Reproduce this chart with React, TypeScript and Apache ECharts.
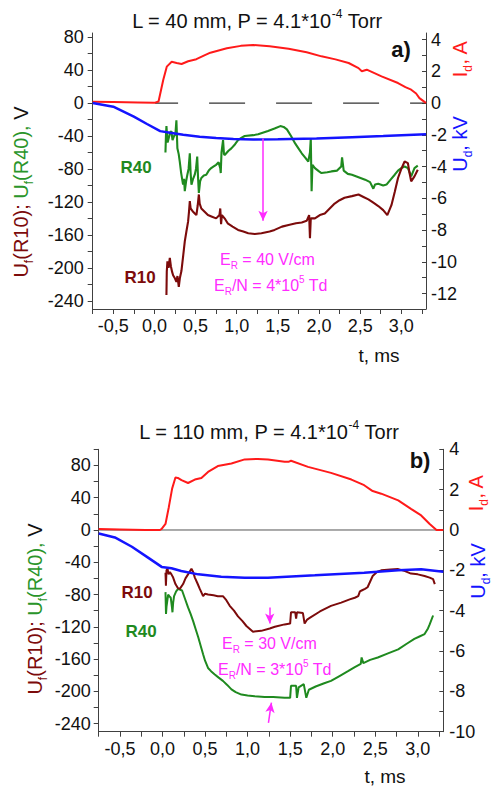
import React, { useEffect, useRef } from 'react';
import * as echarts from 'echarts';

const FONT = "'Liberation Sans', Arial, sans-serif";

// ---- axis ticks / labels ----
const xTickValues = [-0.75, -0.5, -0.25, 0, 0.25, 0.5, 0.75, 1, 1.25, 1.5, 1.75, 2, 2.25, 2.5, 2.75, 3, 3.25];
const xLabelValues = [-0.5, 0, 0.5, 1, 1.5, 2, 2.5, 3];
const leftLabelValues = [-240, -200, -160, -120, -80, -40, 0, 40, 80];
const topLeftTicks = [-240, -220, -200, -180, -160, -140, -120, -100, -80, -60, -40, -20, 0, 20, 40, 60, 80];
const botLeftTicks = [-240, -220, -200, -180, -160, -140, -120, -100, -80, -60, -40, -20, 0, 20, 40, 60, 80, 100];
const topRightLabels = [-12, -10, -8, -6, -4, -2, 0, 2, 4];
const topRightTicks = [-12, -11, -10, -9, -8, -7, -6, -5, -4, -3, -2, -1, 0, 1, 2, 3, 4];
const botRightLabels = [-10, -8, -6, -4, -2, 0, 2, 4];
const botRightTicks = [-10, -9, -8, -7, -6, -5, -4, -3, -2, -1, 0, 1, 2, 3, 4];

// ---- panel a) L = 40 mm ----
const aId = [[-0.75, 0.08], [-0.5, 0.06], [-0.2, 0.03], [0.0, 0.01], [0.05, 0.1], [0.107, 1.45], [0.15, 2.29], [0.21, 2.6], [0.27, 2.52], [0.33, 2.46], [0.41, 2.63], [0.51, 2.76], [0.6, 2.98], [0.68, 3.17], [0.88, 3.45], [1.05, 3.6], [1.2, 3.66], [1.4, 3.58], [1.63, 3.42], [1.85, 3.2], [2.03, 2.94], [2.2, 2.75], [2.36, 2.52], [2.48, 2.2], [2.52, 2.0], [2.58, 2.1], [2.76, 1.68], [2.96, 1.26], [3.05, 1.0], [3.12, 0.84], [3.18, 0.6], [3.22, 0.31], [3.29, 0.04], [3.3, 0]];
const aUd = [[-0.75, 0], [-0.5, -0.23], [-0.25, -0.86], [-0.09, -1.32], [0.07, -1.77], [0.19, -1.87], [0.35, -2.0], [0.55, -2.12], [0.75, -2.2], [0.96, -2.27], [1.2, -2.29], [1.5, -2.28], [1.97, -2.23], [2.4, -2.15], [2.78, -2.08], [3.3, -1.97]];
const aR40 = [[0.134, -60], [0.14, -40], [0.146, -28], [0.16, -48], [0.175, -42], [0.19, -36], [0.206, -34], [0.22, -45], [0.239, -40], [0.255, -38], [0.267, -21], [0.279, -55], [0.295, -62], [0.308, -71], [0.325, -85], [0.348, -99], [0.36, -92], [0.369, -107], [0.385, -95], [0.4, -87], [0.415, -80], [0.43, -61], [0.44, -85], [0.45, -99], [0.47, -92], [0.49, -87], [0.505, -80], [0.52, -65], [0.53, -90], [0.54, -109], [0.555, -95], [0.57, -91], [0.6, -88], [0.63, -87], [0.66, -82], [0.69, -79], [0.72, -77], [0.75, -75], [0.78, -72], [0.8, -79], [0.806, -85], [0.815, -60], [0.834, -45], [0.845, -62], [0.854, -63], [0.9, -58], [0.935, -55], [0.98, -50], [1.016, -45], [1.06, -42], [1.097, -40], [1.2, -39], [1.26, -38], [1.38, -34], [1.46, -31], [1.53, -28], [1.57, -29], [1.61, -32], [1.66, -40], [1.71, -49], [1.75, -55], [1.79, -61], [1.83, -66], [1.87, -71], [1.89, -60], [1.9, -43], [1.91, -107], [1.92, -75], [1.95, -79], [2.0, -83], [2.03, -85], [2.1, -84], [2.15, -83], [2.22, -82], [2.27, -77], [2.28, -66], [2.3, -82], [2.35, -86], [2.4, -87], [2.48, -90], [2.56, -93], [2.62, -96], [2.66, -104], [2.68, -99], [2.72, -98], [2.78, -100], [2.82, -99], [2.87, -93], [2.92, -87], [2.96, -82], [3.0, -79], [3.04, -77], [3.08, -79], [3.12, -89], [3.16, -79], [3.2, -76]];
const aR10 = [[0.146, -233], [0.15, -205], [0.158, -192], [0.172, -200], [0.187, -188], [0.2, -198], [0.215, -205], [0.227, -209], [0.245, -212], [0.267, -217], [0.28, -210], [0.296, -223], [0.31, -212], [0.328, -204], [0.35, -185], [0.369, -168], [0.39, -155], [0.409, -144], [0.42, -132], [0.43, -119], [0.44, -128], [0.47, -132], [0.49, -134], [0.51, -136], [0.525, -125], [0.54, -111], [0.55, -122], [0.57, -128], [0.61, -132], [0.65, -136], [0.7, -138], [0.75, -140], [0.79, -136], [0.8, -128], [0.81, -147], [0.82, -136], [0.86, -141], [0.89, -146], [0.95, -150], [1.016, -154], [1.08, -156], [1.14, -158], [1.22, -159], [1.3, -158], [1.4, -156], [1.46, -154], [1.55, -150], [1.63, -148], [1.72, -146], [1.79, -145], [1.85, -143], [1.88, -136], [1.89, -164], [1.9, -140], [1.95, -140], [2.01, -136], [2.07, -134], [2.13, -128], [2.19, -122], [2.25, -118], [2.31, -115], [2.4, -113], [2.48, -111], [2.54, -114], [2.6, -117], [2.66, -121], [2.72, -125], [2.78, -130], [2.83, -136], [2.88, -124], [2.92, -108], [2.96, -91], [3.0, -80], [3.04, -71], [3.08, -73], [3.1, -85], [3.12, -95], [3.16, -89], [3.2, -81]];
const aZero = [[0.008, 0], [3.3, 0]];
const aArrow = [[1.32, -43], [1.32, -143]];

// ---- panel b) L = 110 mm ----
const bId = [[-0.75, 0.05], [-0.5, 0.03], [-0.2, 0.0], [-0.03, 0], [-0.01, 0.05], [0.035, 0.3], [0.074, 1.13], [0.113, 2.05], [0.152, 2.6], [0.18, 2.58], [0.223, 2.47], [0.3, 2.33], [0.38, 2.5], [0.457, 2.58], [0.535, 2.88], [0.65, 3.17], [0.81, 3.3], [0.966, 3.5], [1.12, 3.52], [1.24, 3.5], [1.435, 3.38], [1.48, 3.38], [1.51, 3.43], [1.71, 3.13], [1.98, 2.83], [2.22, 2.5], [2.37, 2.22], [2.47, 1.93], [2.57, 1.8], [2.77, 1.47], [2.92, 1.05], [3.04, 0.72], [3.14, 0.3], [3.22, 0], [3.3, 0]];
const bUd = [[-0.75, -0.17], [-0.56, -0.37], [-0.36, -0.83], [-0.17, -1.37], [-0.01, -1.83], [0.105, -1.9], [0.22, -2.03], [0.42, -2.2], [0.69, -2.32], [0.966, -2.37], [1.24, -2.37], [1.79, -2.25], [2.37, -2.12], [2.77, -2.0], [3.04, -1.95], [3.3, -2.07]];
const bR10 = [[0.035, -53], [0.04, -69], [0.047, -50], [0.059, -48], [0.072, -55], [0.086, -52], [0.105, -55], [0.125, -59], [0.152, -67], [0.18, -72], [0.203, -73], [0.242, -67], [0.27, -60], [0.3, -55], [0.34, -48], [0.36, -52], [0.38, -59], [0.41, -66], [0.438, -73], [0.477, -82], [0.5, -79], [0.535, -80], [0.6, -81], [0.65, -82], [0.71, -82], [0.75, -87], [0.79, -94], [0.84, -100], [0.887, -107], [0.94, -113], [0.986, -119], [1.063, -126], [1.16, -125], [1.26, -122], [1.32, -120], [1.435, -117], [1.5, -116], [1.51, -102], [1.56, -102], [1.57, -110], [1.58, -102], [1.65, -103], [1.67, -116], [1.7, -111], [1.73, -109], [1.85, -101], [1.98, -94], [2.1, -90], [2.2, -86], [2.26, -84], [2.3, -82], [2.32, -76], [2.34, -75], [2.38, -73], [2.41, -71], [2.47, -57], [2.52, -52], [2.57, -50], [2.68, -49], [2.77, -48.5], [2.85, -51], [2.92, -54], [3.0, -55], [3.08, -57], [3.14, -59], [3.18, -61], [3.2, -67]];
const bR40 = [[0.035, -77], [0.041, -104], [0.047, -95], [0.066, -80], [0.08, -82], [0.097, -84], [0.11, -95], [0.117, -102], [0.125, -90], [0.136, -82], [0.16, -76], [0.183, -73], [0.23, -75], [0.26, -84], [0.3, -96], [0.33, -104], [0.36, -113], [0.39, -123], [0.42, -133], [0.45, -144], [0.477, -154], [0.5, -162], [0.535, -171], [0.57, -175], [0.614, -179], [0.66, -183], [0.71, -187], [0.76, -192], [0.81, -197.5], [0.86, -201], [0.927, -204], [1.0, -205], [1.083, -206], [1.2, -207], [1.3, -207], [1.435, -208], [1.5, -208], [1.51, -193], [1.57, -193], [1.58, -208], [1.6, -195], [1.66, -191], [1.69, -208], [1.72, -198], [1.8, -194], [1.9, -190], [1.98, -187], [2.08, -181], [2.18, -175], [2.26, -170], [2.33, -166], [2.34, -158], [2.36, -165], [2.44, -161], [2.53, -158], [2.65, -153], [2.77, -148], [2.87, -141], [2.96, -135], [3.02, -132], [3.08, -129], [3.12, -122], [3.14, -117], [3.18, -106]];
const bZero = [[-0.75, 0], [3.3, 0]];
const bArrowDown = [[1.26, -96], [1.26, -116]];
const bArrowUp = [[1.245, -239], [1.28, -214]];

const C_RED = '#ff1a1a';
const C_BLUE = '#1414ff';
const C_GREEN = '#1f8a1f';
const C_DRED = '#7c0b0b';
const C_MAG = '#ff2bff';
const C_AXIS = '#404040';

function rt(x: number, y: number, text: string, rich: any, opts: any = {}) {
  return {
    type: 'text',
    x,
    y,
    rotation: opts.rotation || 0,
    z: 100,
    silent: true,
    style: {
      text,
      rich,
      align: opts.align || 'left',
      verticalAlign: 'middle',
      fontFamily: FONT,
      fontSize: opts.fontSize || 16,
      fontWeight: opts.fontWeight || 'normal',
      fill: opts.fill || '#111',
    },
  };
}

function tok(fill: string, fontSize: number, lineHeight: number, va?: string, weight?: string) {
  const o: any = { fill, fontSize, lineHeight, fontFamily: FONT };
  if (va) o.verticalAlign = va;
  if (weight) o.fontWeight = weight;
  return o;
}

const xFmt = (v: number) => v.toFixed(1).replace('.', ',');

function xAxisDef(gridIndex: number) {
  return {
    type: 'value',
    gridIndex,
    min: -0.75,
    max: 3.3,
    splitLine: { show: false },
    axisLine: { show: true, onZero: false, lineStyle: { color: C_AXIS, width: 1 } },
    axisTick: { show: true, inside: false, length: 5, customValues: xTickValues, lineStyle: { color: C_AXIS } },
    axisLabel: { show: true, customValues: xLabelValues, formatter: xFmt, margin: 8, fontSize: 18, fontFamily: FONT, color: '#111' },
  };
}

function yAxisDef(gridIndex: number, pos: string, min: number, max: number, labels: number[], ticks: number[], margin: number) {
  return {
    type: 'value',
    gridIndex,
    position: pos,
    min,
    max,
    splitLine: { show: false },
    axisLine: { show: true, onZero: false, lineStyle: { color: C_AXIS, width: 1 } },
    axisTick: { show: true, inside: pos === 'right', length: pos === 'right' ? 4 : 5, customValues: ticks, lineStyle: { color: C_AXIS } },
    axisLabel: { show: true, customValues: labels, margin, fontSize: 18, fontFamily: FONT, color: '#111' },
  };
}

function lineSeries(data: number[][], xi: number, yi: number, color: string, width: number, extra: any = {}) {
  return {
    type: 'line',
    xAxisIndex: xi,
    yAxisIndex: yi,
    data,
    showSymbol: false,
    symbol: 'none',
    silent: true,
    lineStyle: { color, width },
    ...extra,
  };
}

function arrowLine(pts: number[][]) {
  return [{ coord: pts[0] }, { coord: pts[1] }];
}

export default function App() {
  const ref = useRef<HTMLDivElement>(null);
  useEffect(() => {
    if (!ref.current) return;
    const chart = echarts.init(ref.current, undefined, { renderer: 'svg' });
    const markArrow = (lines: any[]) => ({
      silent: true,
      symbol: ['none', 'arrow'],
      symbolSize: [7, 10],
      label: { show: false },
      lineStyle: { color: C_MAG, width: 1.5, type: 'solid' },
      data: lines,
    });

    const titleRich = { m: tok('#111', 20, 26), s: tok('#111', 12, 12, 'top') };
    const nameRich = {
      r: tok(C_DRED, 20, 27),
      rs: tok(C_DRED, 12, 10, 'bottom'),
      g: tok('#2a952a', 20, 27),
      gs: tok('#2a952a', 12, 10, 'bottom'),
      k: tok('#111', 20, 27),
    };
    const idRich = { r: tok(C_RED, 20, 27), rs: tok(C_RED, 12, 10, 'bottom') };
    const udRich = { b: tok(C_BLUE, 20, 27), bs: tok(C_BLUE, 12, 10, 'bottom') };
    const eRich = { m: tok(C_MAG, 16, 22), ms: tok(C_MAG, 10, 9, 'bottom'), mp: tok(C_MAG, 10, 10, 'top') };

    const option: any = {
      animation: false,
      backgroundColor: '#ffffff',
      grid: [
        { left: 92.7, right: 71, top: 33, height: 276, containLabel: false },
        { left: 98.7, right: 53.7, top: 449.3, height: 282.4, containLabel: false },
      ],
      xAxis: [xAxisDef(0), xAxisDef(1)],
      yAxis: [
        yAxisDef(0, 'left', -250, 85, leftLabelValues, topLeftTicks, 9),
        yAxisDef(0, 'right', -12.97, 4.41, topRightLabels, topRightTicks, 5),
        yAxisDef(1, 'left', -250, 100, leftLabelValues, botLeftTicks, 8),
        yAxisDef(1, 'right', -10, 4, botRightLabels, botRightTicks, 6),
      ],
      series: [
        lineSeries(aZero, 0, 0, '#333', 1, { lineStyle: { color: '#333', width: 1.2, type: [36, 31], dashOffset: 13.3 } }),
        lineSeries(aR40, 0, 0, C_GREEN, 2.1, { markLine: markArrow([arrowLine(aArrow)]) }),
        lineSeries(aR10, 0, 0, C_DRED, 2.1),
        lineSeries(aId, 0, 1, C_RED, 2),
        lineSeries(aUd, 0, 1, C_BLUE, 2.5),
        lineSeries(bZero, 1, 2, '#555', 1),
        lineSeries(bR40, 1, 2, C_GREEN, 2, { markLine: markArrow([arrowLine(bArrowDown), arrowLine(bArrowUp)]) }),
        lineSeries(bR10, 1, 2, C_DRED, 2),
        lineSeries(bId, 1, 3, C_RED, 2),
        lineSeries(bUd, 1, 3, C_BLUE, 2.5),
      ],
      graphic: [
        rt(257, 21, '{m|L = 40 mm, P = 4.1*10}{s|-4}{m| Torr}', titleRich, { align: 'center' }),
        rt(269, 432, '{m|L = 110 mm, P = 4.1*10}{s|-4}{m| Torr}', titleRich, { align: 'center' }),
        rt(21, 192, '{r|U}{rs|f}{r|(R10); }{g|U}{gs|f}{g|(R40), }{k|V}', nameRich, { align: 'center', rotation: Math.PI / 2 }),
        rt(35, 609, '{r|U}{rs|f}{r|(R10); }{g|U}{gs|f}{g|(R40), }{k|V}', nameRich, { align: 'center', rotation: Math.PI / 2 }),
        rt(460, 59, '{r|I}{rs|d}{r|, A}', idRich, { align: 'center', rotation: Math.PI / 2 }),
        rt(460, 144, '{b|U}{bs|d}{b|, kV}', udRich, { align: 'center', rotation: Math.PI / 2 }),
        rt(476, 493, '{r|I}{rs|d}{r|, A}', idRich, { align: 'center', rotation: Math.PI / 2 }),
        rt(478, 571, '{b|U}{bs|d}{b|, kV}', udRich, { align: 'center', rotation: Math.PI / 2 }),
        rt(379, 355, 't, ms', null, { align: 'center', fontSize: 19 }),
        rt(385, 776, 't, ms', null, { align: 'center', fontSize: 19 }),
        rt(401, 49, 'a)', null, { align: 'center', fontSize: 22, fontWeight: 'bold' }),
        rt(420, 460, 'b)', null, { align: 'center', fontSize: 22, fontWeight: 'bold' }),
        rt(136, 167, 'R40', null, { align: 'center', fontSize: 17, fontWeight: 'bold', fill: C_GREEN }),
        rt(140, 277, 'R10', null, { align: 'center', fontSize: 17, fontWeight: 'bold', fill: C_DRED }),
        rt(137, 592, 'R10', null, { align: 'center', fontSize: 17, fontWeight: 'bold', fill: C_DRED }),
        rt(141, 631, 'R40', null, { align: 'center', fontSize: 17, fontWeight: 'bold', fill: C_GREEN }),
        rt(220, 259, '{m|E}{ms|R}{m| = 40 V/cm}', eRich),
        rt(214, 285, '{m|E}{ms|R}{m|/N = 4*10}{mp|5}{m| Td}', eRich),
        rt(222, 643, '{m|E}{ms|R}{m| = 30 V/cm}', eRich),
        rt(218, 669, '{m|E}{ms|R}{m|/N = 3*10}{mp|5}{m| Td}', eRich),
      ],
    };
    chart.setOption(option);
    return () => chart.dispose();
  }, []);
  return <div ref={ref} style={{ position: 'fixed', left: 0, top: 0, width: 497, height: 789 }} />;
}
